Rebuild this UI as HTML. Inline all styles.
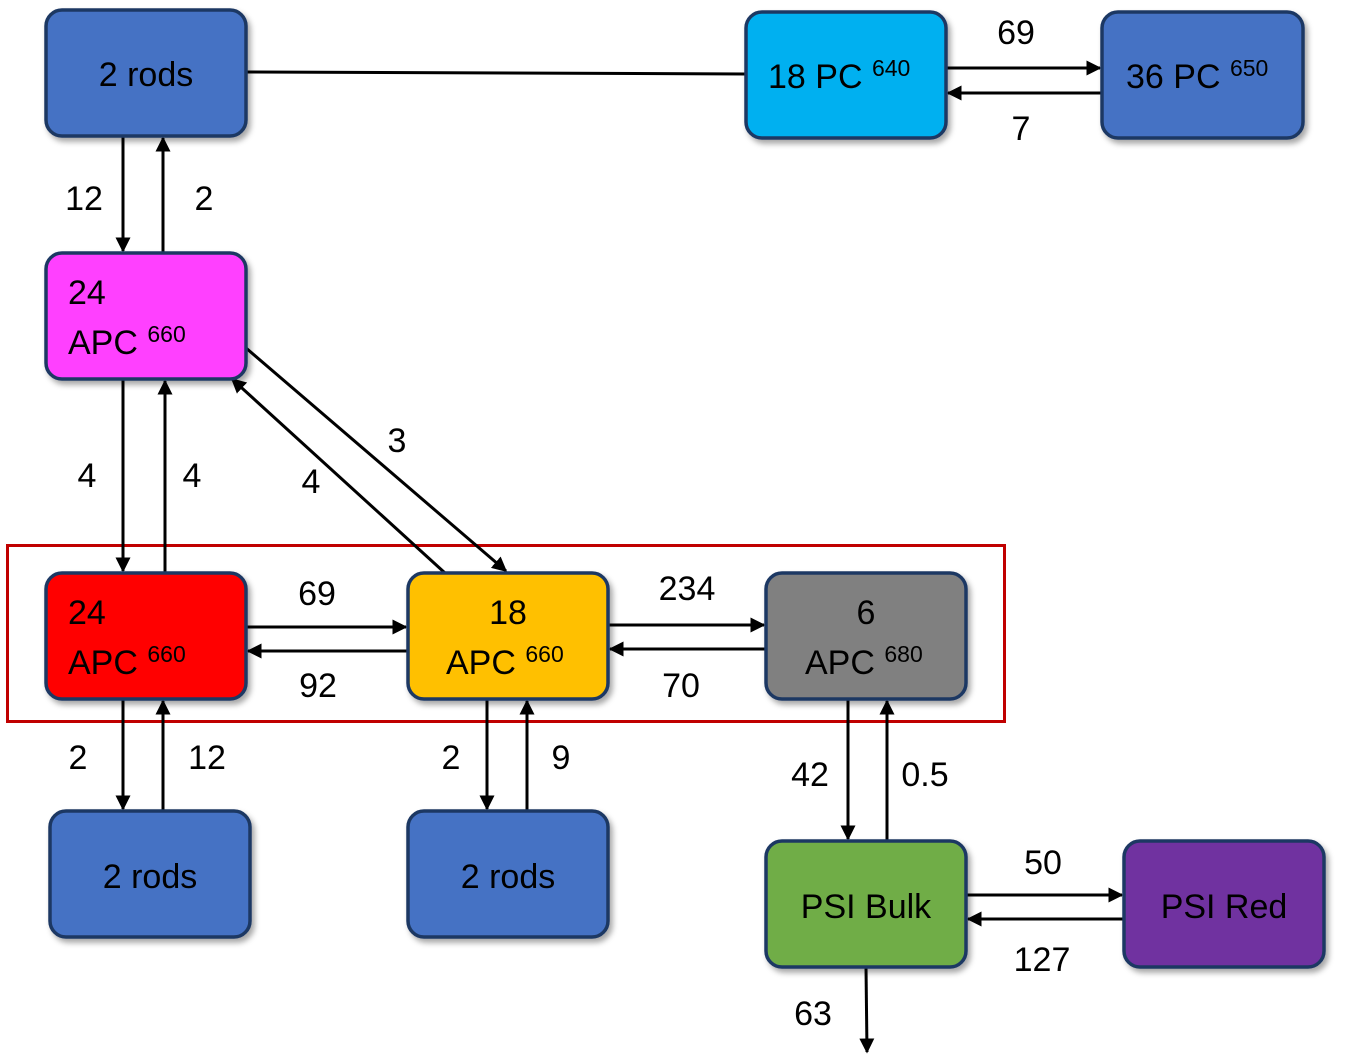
<!DOCTYPE html>
<html><head><meta charset="utf-8"><style>
html,body{margin:0;padding:0;background:#fff;}
svg{display:block;}
text{font-family:"Liberation Sans",sans-serif;fill:#000;}
</style></head><body>
<svg width="1345" height="1061" viewBox="0 0 1345 1061" xmlns="http://www.w3.org/2000/svg">
<defs>
<marker id="a" viewBox="0 0 10 10" refX="9" refY="5" markerWidth="5" markerHeight="5" orient="auto-start-reverse" markerUnits="strokeWidth">
<path d="M0,0 L10,5 L0,10 z" fill="#000"/></marker>
<filter id="sh" x="-10%" y="-10%" width="130%" height="130%"><feDropShadow dx="3" dy="4" stdDeviation="3" flood-color="#000" flood-opacity="0.35"/></filter>
</defs>
<rect x="7.5" y="545.5" width="997" height="176" fill="none" stroke="#c00000" stroke-width="3"/>
<g stroke="#000" stroke-width="3" fill="none">
<line x1="246" y1="72" x2="746" y2="74"/>
<line x1="946" y1="68" x2="1100" y2="68" marker-end="url(#a)"/>
<line x1="1102" y1="93" x2="948" y2="93" marker-end="url(#a)"/>
<line x1="123" y1="136" x2="123" y2="251" marker-end="url(#a)"/>
<line x1="163" y1="253" x2="163" y2="138" marker-end="url(#a)"/>
<line x1="123" y1="379" x2="123" y2="571" marker-end="url(#a)"/>
<line x1="165" y1="573" x2="165" y2="381" marker-end="url(#a)"/>
<line x1="246" y1="348" x2="506" y2="571" marker-end="url(#a)"/>
<line x1="445" y1="573" x2="232" y2="379" marker-end="url(#a)"/>
<line x1="246" y1="627" x2="406" y2="627" marker-end="url(#a)"/>
<line x1="408" y1="651" x2="248" y2="651" marker-end="url(#a)"/>
<line x1="608" y1="625" x2="764" y2="625" marker-end="url(#a)"/>
<line x1="766" y1="649" x2="610" y2="649" marker-end="url(#a)"/>
<line x1="123" y1="699" x2="123" y2="809" marker-end="url(#a)"/>
<line x1="163" y1="811" x2="163" y2="701" marker-end="url(#a)"/>
<line x1="487" y1="699" x2="487" y2="809" marker-end="url(#a)"/>
<line x1="527" y1="811" x2="527" y2="701" marker-end="url(#a)"/>
<line x1="848" y1="699" x2="848" y2="839" marker-end="url(#a)"/>
<line x1="887" y1="841" x2="887" y2="701" marker-end="url(#a)"/>
<line x1="966" y1="895" x2="1122" y2="895" marker-end="url(#a)"/>
<line x1="1124" y1="919" x2="968" y2="919" marker-end="url(#a)"/>
<line x1="866" y1="967" x2="867" y2="1052" marker-end="url(#a)"/>
</g>
<g stroke="#1f3864" stroke-width="3.5" filter="url(#sh)">
<rect x="46" y="10" width="200" height="126" rx="16" fill="#4472c4"/>
<rect x="746" y="12" width="200" height="126" rx="16" fill="#00b0f0"/>
<rect x="1102" y="12" width="201" height="126" rx="16" fill="#4472c4"/>
<rect x="46" y="253" width="200" height="126" rx="16" fill="#ff40ff"/>
<rect x="46" y="573" width="200" height="126" rx="16" fill="#ff0000"/>
<rect x="408" y="573" width="200" height="126" rx="16" fill="#ffc000"/>
<rect x="766" y="573" width="200" height="126" rx="16" fill="#808080"/>
<rect x="50" y="811" width="200" height="126" rx="16" fill="#4472c4"/>
<rect x="408" y="811" width="200" height="126" rx="16" fill="#4472c4"/>
<rect x="766" y="841" width="200" height="126" rx="16" fill="#70ad47"/>
<rect x="1124" y="841" width="200" height="126" rx="16" fill="#7030a0"/>
</g>
<g font-size="34">
<text x="146" y="86" text-anchor="middle">2 rods</text>
<text x="768" y="88">18 PC <tspan font-size="23" dy="-12">640</tspan></text>
<text x="1126" y="88">36 PC <tspan font-size="23" dy="-12">650</tspan></text>
<text x="68" y="304">24</text>
<text x="68" y="354">APC <tspan font-size="23" dy="-12">660</tspan></text>
<text x="68" y="624">24</text>
<text x="68" y="674">APC <tspan font-size="23" dy="-12">660</tspan></text>
<text x="508" y="624" text-anchor="middle">18</text>
<text x="446" y="674">APC <tspan font-size="23" dy="-12">660</tspan></text>
<text x="866" y="624" text-anchor="middle">6</text>
<text x="805" y="674">APC <tspan font-size="23" dy="-12">680</tspan></text>
<text x="150" y="888" text-anchor="middle">2 rods</text>
<text x="508" y="888" text-anchor="middle">2 rods</text>
<text x="866" y="918" text-anchor="middle">PSI Bulk</text>
<text x="1224" y="918" text-anchor="middle">PSI Red</text>
<text x="1016" y="44" text-anchor="middle">69</text>
<text x="1021" y="140" text-anchor="middle">7</text>
<text x="84" y="210" text-anchor="middle">12</text>
<text x="204" y="210" text-anchor="middle">2</text>
<text x="87" y="487" text-anchor="middle">4</text>
<text x="192" y="487" text-anchor="middle">4</text>
<text x="397" y="452" text-anchor="middle">3</text>
<text x="311" y="493" text-anchor="middle">4</text>
<text x="317" y="605" text-anchor="middle">69</text>
<text x="318" y="697" text-anchor="middle">92</text>
<text x="687" y="600" text-anchor="middle">234</text>
<text x="681" y="697" text-anchor="middle">70</text>
<text x="78" y="769" text-anchor="middle">2</text>
<text x="207" y="769" text-anchor="middle">12</text>
<text x="451" y="769" text-anchor="middle">2</text>
<text x="561" y="769" text-anchor="middle">9</text>
<text x="810" y="786" text-anchor="middle">42</text>
<text x="925" y="786" text-anchor="middle">0.5</text>
<text x="1043" y="874" text-anchor="middle">50</text>
<text x="1042" y="971" text-anchor="middle">127</text>
<text x="813" y="1025" text-anchor="middle">63</text>
</g>
</svg>
</body></html>
